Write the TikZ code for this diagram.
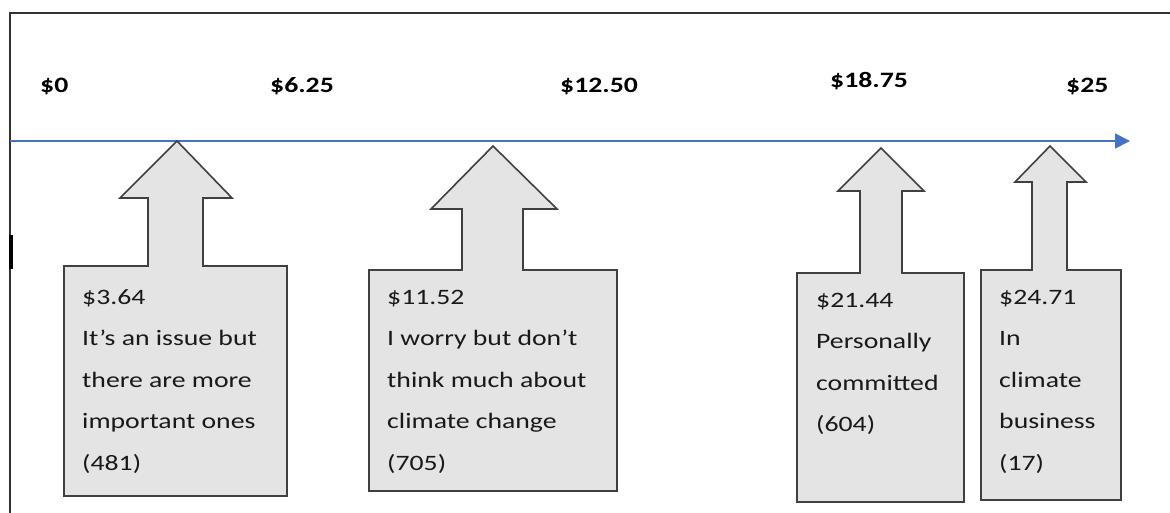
\documentclass[tikz,border=0pt]{standalone}
\usepackage{fontspec}
\setmainfont{Carlito}[FakeStretch=1.26]
\usepackage{tikz}
\usetikzlibrary{arrows.meta}

\definecolor{axisblue}{HTML}{4472C4}
\definecolor{boxgray}{HTML}{E4E4E4}
\definecolor{edgegray}{HTML}{404040}

\tikzset{
  price/.style={font=\bfseries\fontsize{22}{24}\selectfont, anchor=base west, inner sep=0pt},
  block/.style={draw=edgegray, fill=boxgray, line width=1.6pt, line join=miter},
  note/.style={font=\fontsize{22}{41.5}\selectfont, align=left, anchor=north west, inner sep=0pt, text=black!90},
}

\begin{document}
\begin{tikzpicture}[x=1pt,y=-1pt]
\useasboundingbox (0,0) rectangle (1170,512);
% outer frame, runs off the right and bottom edges
\draw [line width=2pt, color=black!80] (10,13) rectangle (1200,540);
\fill (9,235) rectangle (13,269);

% price scale
\node [price] (p0) at (40,92) {\$0};
\node [price] (p1) at (270,92) {\$6.25};
\node [price] (p2) at (560,92) {\$12.50};
\node [price] (p3) at (830,87) {\$18.75};
\node [price] (p4) at (1066,92) {\$25};
\coordinate (axisL) at (10,141);
\coordinate (axisR) at (1130,141);
\draw [axisblue, line width=1.8pt, -{Triangle[length=15pt,width=15pt]}] (axisL) -- (axisR);

% $3.64
\draw [block] (64,496) -- (64,266) -- (148,266) -- (148,198) -- (120,198) -- (177,141) -- (232,198) -- (203,198) -- (203,266) -- (287,266) -- (287,496) -- cycle;
\node [note] (n1) at (82,289) {\$3.64\\It’s an issue but\\there are more\\important ones\\(481)};

% $11.52
\draw [block] (369,491) -- (369,270) -- (462,270) -- (462,209) -- (431,209) -- (493,146) -- (557,209) -- (523,209) -- (523,270) -- (617,270) -- (617,491) -- cycle;
\node [note] (n2) at (387,290) {\$11.52\\I worry but don’t\\think much about\\climate change\\(705)};

% $21.44
\draw [block] (797,502) -- (797,273) -- (860,273) -- (860,191) -- (838,191) -- (881,148) -- (924,191) -- (902,191) -- (902,273) -- (964,273) -- (964,502) -- cycle;
\node [note] (n3) at (816,293) {\$21.44\\Personally\\committed\\(604)};

% $24.71
\draw [block] (981,500) -- (981,270) -- (1032,270) -- (1032,182) -- (1015,182) -- (1050,146) -- (1086,182) -- (1067,182) -- (1067,270) -- (1121,270) -- (1121,500) -- cycle;
\node [note] (n4) at (999,290) {\$24.71\\In\\climate\\business\\(17)};
\end{tikzpicture}
\end{document}
